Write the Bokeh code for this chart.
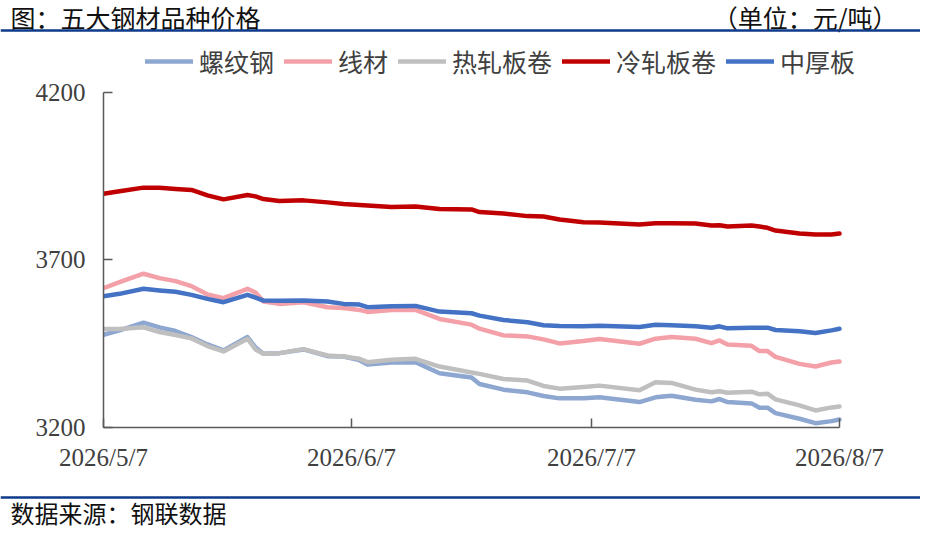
import pandas as pd
from bokeh.plotting import figure
from bokeh.layouts import column
from bokeh.models import (Range1d, FixedTicker, Legend, LegendItem, Label, Span)
from bokeh.embed import file_html
from bokeh.resources import INLINE

# 日期与五大品种价格（元/吨）
dates = ["2026-05-07", "2026-05-09", "2026-05-12", "2026-05-14", "2026-05-16",
         "2026-05-18", "2026-05-20", "2026-05-22", "2026-05-25", "2026-05-26",
         "2026-05-27", "2026-05-29", "2026-06-01", "2026-06-04", "2026-06-06",
         "2026-06-08", "2026-06-09", "2026-06-12", "2026-06-15", "2026-06-18",
         "2026-06-22", "2026-06-23", "2026-06-26", "2026-06-29", "2026-07-01",
         "2026-07-03", "2026-07-06", "2026-07-08", "2026-07-13", "2026-07-15",
         "2026-07-17", "2026-07-20", "2026-07-22", "2026-07-23", "2026-07-24",
         "2026-07-27", "2026-07-28", "2026-07-29", "2026-07-30", "2026-08-02",
         "2026-08-04", "2026-08-06", "2026-08-07"]

rebar = [3477, 3490, 3513, 3499, 3488, 3470, 3448, 3430, 3470, 3439,
         3420, 3422, 3433, 3413, 3412, 3401, 3388, 3394, 3395, 3362,
         3349, 3330, 3313, 3305, 3294, 3287, 3287, 3290, 3276, 3290,
         3295, 3283, 3278, 3285, 3276, 3272, 3259, 3259, 3243, 3226,
         3213, 3219, 3224]
wire = [3616, 3634, 3659, 3646, 3637, 3622, 3597, 3586, 3614, 3603,
        3576, 3569, 3574, 3559, 3557, 3551, 3545, 3551, 3551, 3524,
        3507, 3495, 3475, 3472, 3463, 3451, 3458, 3464, 3450, 3465,
        3470, 3465, 3452, 3460, 3448, 3444, 3428, 3428, 3411, 3390,
        3382, 3394, 3397]
hot_coil = [3494, 3494, 3499, 3485, 3476, 3466, 3443, 3427, 3465, 3433,
            3420, 3422, 3434, 3415, 3412, 3405, 3395, 3402, 3405, 3382,
            3364, 3360, 3345, 3340, 3324, 3316, 3321, 3325, 3311, 3335,
            3333, 3313, 3305, 3308, 3304, 3307, 3299, 3301, 3284, 3266,
            3251, 3260, 3263]
cold_coil = [3898, 3905, 3916, 3916, 3912, 3909, 3893, 3881, 3894, 3890,
             3882, 3876, 3878, 3872, 3867, 3864, 3863, 3858, 3860, 3852,
             3851, 3843, 3839, 3831, 3830, 3821, 3813, 3812, 3806, 3810,
             3810, 3809, 3803, 3804, 3800, 3803, 3800, 3796, 3788, 3779,
             3776, 3776, 3779]
plate = [3592, 3599, 3614, 3609, 3605, 3596, 3584, 3574, 3596, 3588,
         3579, 3578, 3579, 3576, 3569, 3567, 3559, 3562, 3563, 3546,
         3541, 3534, 3521, 3514, 3505, 3503, 3502, 3504, 3500, 3507,
         3505, 3502, 3498, 3502, 3496, 3498, 3498, 3498, 3491, 3487,
         3482, 3490, 3495]

names = ["螺纹钢", "线材", "热轧板卷", "冷轧板卷", "中厚板"]
colors = ["#8DA7D1", "#F4A0A8", "#BFBFBF", "#C00000", "#4472C4"]
tick_dates = ["2026-05-07", "2026-06-07", "2026-07-07", "2026-08-07"]
tick_labels = ["2026/5/7", "2026/6/7", "2026/7/7", "2026/8/7"]
y_ticks = [3200, 3700, 4200]

CJK = "Noto Sans CJK SC"
SERIF = "Liberation Serif"
RULE = "#0E3A8A"
W = 920
DAY_MS = 86400000


def text_strip(height):
    """Plain figure used for header/footer text and the blue rules."""
    f = figure(width=W, height=height, x_axis_type=None, y_axis_type=None,
               x_range=Range1d(0, W), y_range=Range1d(height, 0),
               output_backend="svg", toolbar_location=None, min_border=0)
    f.outline_line_color = None
    f.frame_align = False
    return f


# header
head = text_strip(42)
head.add_layout(Label(x=10, y=16, text="图：五大钢材品种价格", text_font=CJK,
                      text_font_size="25px", text_color="#111111",
                      text_baseline="middle"))
head.add_layout(Label(x=897, y=16, text="（单位：元/吨）", text_font=CJK,
                      text_font_size="25px", text_color="#111111",
                      text_align="right", text_baseline="middle"))
head.add_layout(Span(location=30, dimension="width", line_color=RULE,
                     line_width=2.5))

# main chart
x = pd.to_datetime(dates)
tick_ms = [pd.Timestamp(d).value // 10**6 for d in tick_dates]
frame_right = 900  # frame reaches past the last date so the legend fits
x_end = tick_ms[-1] + (frame_right - 839) / 8.0 * DAY_MS

p = figure(width=W, height=448, x_axis_type="datetime",
           output_backend="svg", toolbar_location=None,
           x_range=Range1d(tick_ms[0], x_end),
           y_range=Range1d(3200, 4349.25),
           min_border_left=103, min_border_right=W - frame_right,
           min_border_top=0, min_border_bottom=63)
p.frame_align = False
p.outline_line_color = None
p.xgrid.grid_line_color = None
p.ygrid.grid_line_color = None

for ax in (p.xaxis, p.yaxis):
    ax.axis_line_color = "#595959"
    ax.axis_line_width = 1.5
    ax.major_tick_line_color = "#595959"
    ax.major_tick_line_width = 1.5
    ax.major_tick_in = 9
    ax.major_tick_out = 0
    ax.minor_tick_line_color = None
    ax.major_label_text_font = SERIF
    ax.major_label_text_font_size = "25px"
    ax.major_label_text_color = "#404040"
p.xaxis.ticker = FixedTicker(ticks=tick_ms)
p.xaxis.major_label_overrides = dict(zip(tick_ms, tick_labels))
p.xaxis.major_label_standoff = 16
p.xaxis.bounds = (tick_ms[0], tick_ms[-1])
p.yaxis.ticker = FixedTicker(ticks=y_ticks)
p.yaxis.bounds = (3200, 4200)
p.yaxis.major_label_standoff = 18

series = [rebar, wire, hot_coil, cold_coil, plate]
items = []
for name, col, vals in zip(names, colors, series):
    r = p.line(x, vals, line_color=col, line_width=4.5, line_join="round",
               line_cap="round")
    items.append(LegendItem(label=name, renderers=[r]))

legend = Legend(items=items, orientation="horizontal", location=(42, 348),
                padding=0, margin=0, spacing=10, glyph_width=48,
                glyph_height=20, label_standoff=6,
                label_text_font=CJK, label_text_font_size="25px",
                label_text_color="#404040", border_line_color=None,
                background_fill_alpha=0)
p.add_layout(legend, "center")

# footer
foot = text_strip(41)
foot.add_layout(Span(location=7, dimension="width", line_color=RULE,
                     line_width=2.5))
foot.add_layout(Label(x=10, y=22, text="数据来源：钢联数据", text_font=CJK,
                      text_font_size="24px", text_color="#111111",
                      text_baseline="middle"))

page = column(head, p, foot)
open("out.html", "w").write(file_html(page, INLINE))
